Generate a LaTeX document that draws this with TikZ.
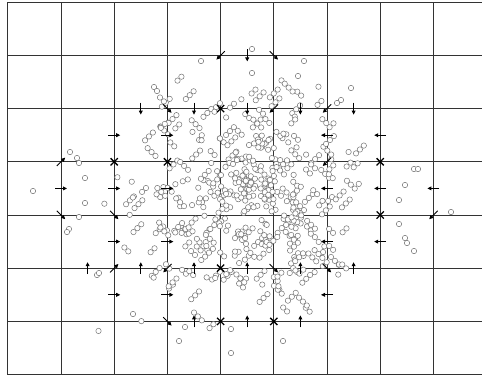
\documentclass[tikz,border=0pt]{standalone}
\usetikzlibrary{arrows.meta}
\tikzset{
  gridl/.style={draw=black!80, line width=1pt},
  dot/.style={draw=black!55, fill=white, line width=0.5pt},
  arr/.style={-{Triangle[length=4pt,width=3.8pt]}, line width=0.9pt, black},
  xmark/.style={line width=1.3pt, black}
}
\begin{document}
\begin{tikzpicture}[x=1pt,y=-1pt]
\useasboundingbox (0,0) rectangle (482,376);
% grid
\foreach \i in {0,...,8} \draw[gridl] ({7.8+53.2*\i},2.2) -- ({7.8+53.2*\i},374.6);
\foreach \j in {0,...,7} \draw[gridl] (7.8,{2.2+53.2*\j}) -- (482,{2.2+53.2*\j});
% random point cloud
\pgfmathsetseed{2024}
\foreach \k in {1,...,330}{
  \pgfmathsetmacro\cx{245+55*(rand+rand+rand)}
  \pgfmathsetmacro\cy{202+55*(rand+rand+rand)}
  \pgfmathsetmacro\dy{rand>0?3.9:-3.9}
  \pgfmathtruncatemacro\n{1+2.99*rnd}
  \foreach \m in {1,...,\n}{
    \draw[dot] ({\cx+3.9*(\m-1)},{\cy+\dy*(\m-1)}) circle[radius=2.7pt];
  }
}
% outlying points
\foreach \p/\q in {33/191,70/152,77/158,79/163,85/178,85/203,79/217,69/229,67/232,
  451/212,414/169,418/169,405/185,399/200,399/224,405/238,407/243,414/251,
  179/341,231/353,283/341,231/329,185/327,133/314,97/275,99/273,
  252/49,201/61,304/61,252/73,298/76,351/88,341/100,337/103,154/87,157/91}
  \draw[dot] (\p,\q) circle[radius=2.7pt];
% arrows pointing right (on vertical lines)
\foreach \i/\r in {2/2.5,3/2.5,1/3.5,2/3.5,3/3.5,2/4.5,3/4.5,2/5.5,3/5.5}
  \draw[arr] ({7.8+53.2*\i-6},{2.2+53.2*\r}) -- ++(12,0);
% arrows pointing left
\foreach \i/\r in {6/2.5,7/2.5,6/3.5,7/3.5,8/3.5,6/4.5,7/4.5,6/5.5}
  \draw[arr] ({7.8+53.2*\i+6},{2.2+53.2*\r}) -- ++(-12,0);
% arrows pointing down (on horizontal lines)
\foreach \i/\r in {4.5/1,2.5/2,3.5/2,4.5/2,5.5/2,6.5/2}
  \draw[arr] ({7.8+53.2*\i},{2.2+53.2*\r-6}) -- ++(0,12);
% arrows pointing up
\foreach \i/\r in {1.5/5,2.5/5,3.5/5,4.5/5,5.5/5,6.5/5,3.5/6,4.5/6,5.5/6}
  \draw[arr] ({7.8+53.2*\i},{2.2+53.2*\r+6}) -- ++(0,-12);
% diagonal arrows at vertices
\foreach \i/\r/\dx/\dy in {4/1/-1/1,5/1/1/1,3/2/1/1,5/2/-1/1,6/2/-1/1,1/3/1/-1,6/3/-1/1,
  1/4/1/1,2/4/1/1,8/4/-1/1,2/5/1/-1,3/5/-1/1,5/5/1/1,6/5/1/1,3/6/1/1}
  \draw[arr] ({7.8+53.2*\i-4.2*\dx},{2.2+53.2*\r-4.2*\dy}) -- ({7.8+53.2*\i+4.2*\dx},{2.2+53.2*\r+4.2*\dy});
% crosses at vertices
\foreach \i/\r in {4/2,2/3,3/3,7/3,7/4,4/5,4/6,5/6}
  \draw[xmark] ({7.8+53.2*\i-3.6},{2.2+53.2*\r-3.6}) -- ({7.8+53.2*\i+3.6},{2.2+53.2*\r+3.6})
               ({7.8+53.2*\i-3.6},{2.2+53.2*\r+3.6}) -- ({7.8+53.2*\i+3.6},{2.2+53.2*\r-3.6});
\end{tikzpicture}
\end{document}
